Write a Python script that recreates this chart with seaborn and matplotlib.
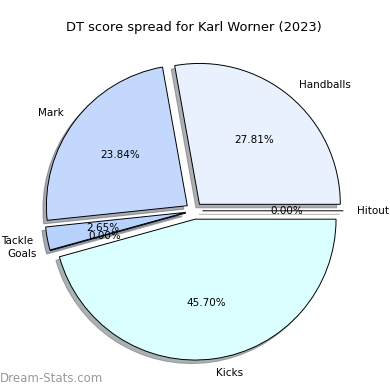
import matplotlib
matplotlib.use('Agg')
import matplotlib.pyplot as plt
import seaborn as sns

# Data
categories = ['Handballs', 'Mark', 'Tackle', 'Goals', 'Kicks', 'Hitout']
counts = [42, 36, 4, 0, 69, 0]
colors = ['#e9f0fe', '#c4d8fe', '#b8d2fe', '#cfe3ff', '#dbffff', '#ffffff']

sns.set_style('white')

fig = plt.figure(figsize=(3.9, 3.9), dpi=100)
ax = fig.add_axes([0.046, 0.008, 0.903, 0.903])
wedges, texts, autotexts = ax.pie(
    counts, labels=categories, colors=colors, autopct='%1.2f%%',
    explode=[0.06] * len(counts),
    shadow={'ox': -0.018, 'oy': -0.018, 'shade': 0.6}, startangle=0,
    wedgeprops={'edgecolor': 'black', 'linewidth': 0.7},
    textprops={'fontsize': 7.5, 'color': 'black'})
ax.set_title('DT score spread for Karl Worner (2023)', fontsize=9.4,
             color='black', pad=3)
ax.set_aspect('equal')

fig.text(0.0, 0.02, 'Dream-Stats.com', fontsize=8.5, color='gray', alpha=0.8)

plt.savefig('out.png', dpi=100)
